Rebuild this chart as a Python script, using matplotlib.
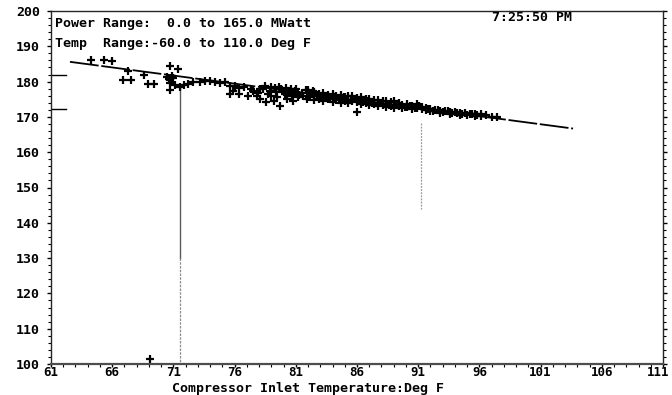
import matplotlib
matplotlib.use("Agg")
import matplotlib.pyplot as plt
from matplotlib.ticker import MultipleLocator, FixedLocator
from matplotlib.transforms import ScaledTranslation

# Measured points: compressor inlet temperature (deg F) vs power (MWatt)
temp_f = [
    64.3, 65.3, 66.0, 67.3, 66.9, 67.5, 68.6, 68.9, 69.4, 70.7, 71.4,
    70.5, 70.8, 70.6, 71.0, 70.9, 70.7, 70.7, 71.1, 71.5, 71.9, 69.1,
    72.2, 72.6, 73.2, 73.6, 74.0, 74.4, 74.8, 75.2, 75.6, 76.0,
    75.6, 75.9, 76.4, 76.8, 76.4, 77.1,
    77.5, 78.1, 78.5, 78.9, 79.3, 79.8, 80.4, 80.9, 81.5, 82.2,
    78.1, 78.6, 79.2, 79.7, 77.8, 80.1, 80.7, 81.2, 81.9,
    78.3, 79.0, 79.6, 80.2, 80.6, 81.0, 81.8, 82.4,
    79.0, 79.5, 80.3, 80.8, 81.3,
    77.3, 77.9, 78.7, 79.4, 80.0, 80.5, 81.1, 81.6, 82.0, 82.1,
    82.5, 82.5, 82.5, 82.9, 82.9, 83.2, 83.2, 83.2, 83.6, 83.6,
    84.0, 84.0, 84.0, 84.3, 84.3, 84.7, 84.7, 84.7, 85.0, 85.0,
    85.3, 85.3, 85.3, 85.6, 85.6, 86.0, 86.0, 86.0, 86.3, 86.3, 86.3,
    86.7, 86.7, 87.0, 87.0, 87.0, 87.4, 87.4, 87.7, 87.7, 87.7,
    88.1, 88.1, 88.4, 88.4, 88.4, 88.8, 88.8, 89.0, 89.0, 89.4, 89.4,
    89.7, 89.7, 90.1, 90.1, 90.5, 90.5, 90.9, 90.9, 91.3, 91.3,
    91.6, 91.6, 92.0, 92.0, 92.4, 92.8, 92.8, 93.2, 93.6, 93.6,
    94.0, 94.4, 94.4, 94.8, 95.2, 95.6, 95.6, 96.1, 96.1, 96.5,
    97.0, 97.4,
    82.7, 83.4, 83.8, 84.5, 84.9, 85.5, 85.8, 86.5, 86.9, 87.2,
    87.9, 88.6, 89.2, 89.9, 90.3, 90.7, 91.1, 91.8, 92.2, 92.6,
    93.0, 93.4, 93.8, 94.2, 94.6, 95.0, 95.4, 95.8,
]
power_mw = [
    186.2, 186.2, 185.9, 183.1, 180.4, 180.4, 181.8, 179.3, 179.3, 184.3, 183.7,
    181.2, 181.0, 180.6, 180.9, 181.5, 179.7, 177.6, 179.0, 178.6, 179.0, 101.4,
    179.3, 179.8, 180.0, 180.2, 180.1, 179.9, 179.7, 179.9, 178.8, 178.8,
    176.5, 177.4, 178.3, 178.6, 176.5, 176.0,
    177.4, 177.9, 178.8, 177.4, 178.3, 177.9, 177.4, 177.4, 176.9, 176.5,
    175.1, 174.1, 174.6, 173.2, 176.0, 176.5, 176.0, 175.5, 175.1,
    178.0, 178.5, 178.6, 178.3, 178.0, 177.8, 177.6, 177.2,
    176.0, 175.5, 175.0, 174.6, 176.2,
    178.0, 176.8, 176.6, 177.0, 177.0, 176.8, 176.4, 175.8, 177.6, 175.5,
    177.0, 175.8, 174.8, 176.6, 175.2, 176.8, 175.6, 174.6, 176.2, 175.0,
    176.5, 175.4, 174.3, 175.8, 174.8, 176.2, 175.1, 174.0, 175.6, 174.6,
    175.9, 174.9, 173.8, 176.0, 174.4, 175.4, 174.2, 171.3, 175.6, 174.7, 173.6,
    175.0, 173.9, 175.2, 174.3, 173.3, 174.7, 173.6, 174.9, 173.9, 173.0,
    174.4, 173.4, 174.6, 173.7, 172.8, 174.1, 173.2, 174.6, 172.6, 173.9, 173.0,
    173.5, 172.4, 173.7, 172.7, 173.2, 172.2, 173.6, 172.5, 172.2, 172.9,
    172.6, 171.9, 172.3, 171.6, 171.9, 171.6, 171.2, 171.7, 171.3, 170.8,
    171.4, 171.0, 170.6, 171.1, 170.7, 170.9, 170.3, 170.3, 170.9, 170.4,
    170.0, 169.9,
    176.0, 175.9, 175.6, 175.3, 175.5, 174.8, 175.1, 174.2, 174.6, 173.9,
    174.0, 173.3, 173.5, 172.9, 173.1, 172.6, 173.0, 172.2, 171.8, 172.0,
    171.4, 171.8, 171.0, 171.2, 170.9, 170.6, 170.9, 170.6,
]

# Fitted trend (end points of the dashed line)
trend_x = [62.55, 103.65]
trend_y = [185.6, 166.7]

# Cursor lines and y-axis reference marks
cursor_x = [71.5, 91.2]
cursor_top = [178.8, 168.4]
cursor_bottom = [100.0, 144.0]
ref_levels = [181.9, 172.3]

x_ticks = [61, 66, 71, 76, 81, 86, 91, 96, 101, 106, 111]
y_ticks = [100, 110, 120, 130, 140, 150, 160, 170, 180, 190, 200]

mono = "DejaVu Sans Mono"
fs = 9.5
fig = plt.figure(figsize=(6.72, 3.95), dpi=100)
ax = fig.add_axes([51 / 672, 1 - 364 / 395, 612 / 672, 353 / 395])
ax.set_xlim(61, 111)
ax.set_ylim(100, 200)

# cursor lines
ax.plot([cursor_x[0]] * 2, [cursor_top[0], 130], color="0.35", lw=1.0)
ax.plot([cursor_x[0]] * 2, [130, cursor_bottom[0]], color="0.55", lw=0.9,
        ls=(0, (2, 1)))
ax.plot([cursor_x[1]] * 2, [cursor_top[1], cursor_bottom[1]], color="0.6",
        lw=0.9, ls=(0, (1.5, 1)))
for lvl in ref_levels:
    ax.plot([61, 62.2], [lvl, lvl], color="black", lw=1.0)

ax.plot(trend_x, trend_y, color="black", lw=1.3, dashes=(16, 1.5))
ax.plot(temp_f, power_mw, "+", color="black", ms=6, mew=1.6)

ax.xaxis.set_major_locator(FixedLocator(x_ticks))
ax.xaxis.set_minor_locator(MultipleLocator(1))
ax.yaxis.set_major_locator(FixedLocator(y_ticks))
ax.yaxis.set_minor_locator(MultipleLocator(2))
ax.set_xticklabels([str(v) for v in x_ticks], family=mono, fontsize=9,
                   fontweight="bold")
ax.set_yticklabels([str(v) for v in y_ticks], family=mono, fontsize=fs,
                   fontweight="bold")
ax.tick_params(axis="both", which="major", direction="out", length=3,
               width=1, color="black")
ax.tick_params(axis="both", which="minor", direction="out", length=2,
               width=0.8, color="black")
ax.tick_params(axis="x", which="major", length=2, pad=-0.5)
ax.tick_params(axis="y", right=True, which="both", pad=5)

# keep the last x label inside the figure
last = ax.get_xticklabels()[-1]
last.set_transform(last.get_transform() +
                   ScaledTranslation(-5 / 100, 0, fig.dpi_scale_trans))

for side in ["left", "right", "top"]:
    ax.spines[side].set_linewidth(1.0)
    ax.spines[side].set_color("0.15")
ax.spines["bottom"].set_linewidth(1.6)
ax.spines["bottom"].set_color("0.3")

ax.set_xlabel("Compressor Inlet Temperature:Deg F", family=mono,
              fontsize=fs, fontweight="bold", va="center")
ax.xaxis.set_label_coords(0.42, -0.069, transform=ax.transAxes)

ax.text(0.007, 0.966, "Power Range:  0.0 to 165.0 MWatt", transform=ax.transAxes,
        family=mono, fontsize=fs, fontweight="bold", va="center", ha="left")
ax.text(0.007, 0.907, "Temp  Range:-60.0 to 110.0 Deg F", transform=ax.transAxes,
        family=mono, fontsize=fs, fontweight="bold", va="center", ha="left")
ax.text(0.72, 0.982, "7:25:50 PM", transform=ax.transAxes,
        family=mono, fontsize=fs, fontweight="bold", va="center", ha="left")

fig.savefig("out.png", dpi=100)
